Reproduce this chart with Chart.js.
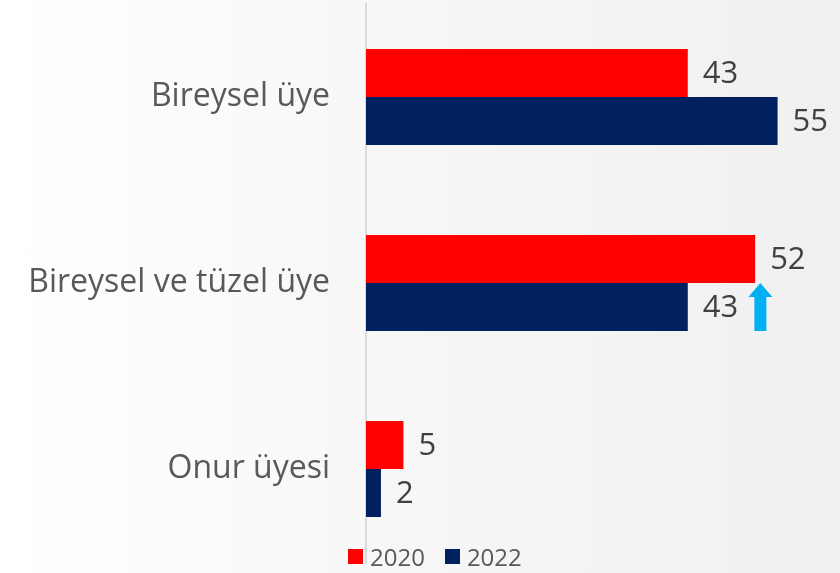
<!DOCTYPE html>
<html>
<head>
<meta charset="utf-8">
<script src="https://cdn.jsdelivr.net/npm/chart.js@4/dist/chart.umd.min.js"></script>
<style>
  html, body { margin: 0; padding: 0; }
  body {
    width: 840px; height: 573px; overflow: hidden;
    background: linear-gradient(to right, #ffffff 0%, #f7f7f7 45%, #f0f0f0 100%);
    position: relative;
    font-family: "Open Sans", sans-serif;
  }
  #kutu { position: absolute; left: 0; top: 0; width: 840px; height: 573px; }
  #lejant {
    position: absolute; left: 348px; top: 540px;
    display: flex; align-items: center;
    font-size: 24px; color: #595959;
  }
  #lejant .oge { display: flex; align-items: center; margin-right: 20px; }
  #lejant .kare { width: 15px; height: 15px; margin-right: 7px; }
</style>
</head>
<body>
<div id="kutu"><canvas id="grafik" width="840" height="573"></canvas></div>
<div id="lejant"></div>
<script>
// kategoriler ve seriler
const kategoriler = ["Bireysel üye", "Bireysel ve tüzel üye", "Onur üyesi"];
const seriler = ["2020", "2022"];
const degerler2020 = [43, 52, 5];
const degerler2022 = [55, 43, 2];
const renkler = ["#ff0000", "#002060"];

// artis oku: hangi kategori / seri ve eksende hangi degerde
const okKategori = 1;
const okSeri = 1;
const okDeger = 52.7;

// bar sonuna deger yazan eklenti
const degerYazisi = {
  id: "degerYazisi",
  afterDatasetsDraw(chart) {
    const ctx = chart.ctx;
    ctx.save();
    ctx.font = "31px 'Open Sans', sans-serif";
    ctx.fillStyle = "#404040";
    ctx.textAlign = "left";
    ctx.textBaseline = "middle";
    chart.data.datasets.forEach((ds, i) => {
      chart.getDatasetMeta(i).data.forEach((bar, j) => {
        ctx.fillText(ds.data[j], bar.x + 15, bar.y + 1);
      });
    });
    ctx.restore();
  }
};

// mavi yukari ok
const artisOku = {
  id: "artisOku",
  afterDatasetsDraw(chart) {
    const bar = chart.getDatasetMeta(okSeri).data[okKategori];
    const x = chart.scales.x.getPixelForValue(okDeger);
    const ust = bar.y - bar.height / 2;
    const alt = bar.y + bar.height / 2;
    const ctx = chart.ctx;
    ctx.save();
    ctx.fillStyle = "#00b0f0";
    ctx.beginPath();
    ctx.moveTo(x, ust);
    ctx.lineTo(x + 12, ust + 14);
    ctx.lineTo(x + 6, ust + 14);
    ctx.lineTo(x + 6, alt);
    ctx.lineTo(x - 6, alt);
    ctx.lineTo(x - 6, ust + 14);
    ctx.lineTo(x - 12, ust + 14);
    ctx.closePath();
    ctx.fill();
    ctx.restore();
  }
};

// html lejant, chart'in kendi etiketlerinden uretiliyor
const htmlLejant = {
  id: "htmlLejant",
  afterUpdate(chart) {
    const kutu = document.getElementById("lejant");
    kutu.innerHTML = "";
    const etiketler = chart.options.plugins.legend.labels.generateLabels(chart);
    etiketler.forEach((e) => {
      const oge = document.createElement("div");
      oge.className = "oge";
      const kare = document.createElement("span");
      kare.className = "kare";
      kare.style.background = e.fillStyle;
      const yazi = document.createElement("span");
      yazi.textContent = e.text;
      oge.appendChild(kare);
      oge.appendChild(yazi);
      kutu.appendChild(oge);
    });
  }
};

const grafik = new Chart(document.getElementById("grafik"), {
  type: "bar",
  data: {
    labels: kategoriler,
    datasets: [
      { label: seriler[0], data: degerler2020, backgroundColor: renkler[0] },
      { label: seriler[1], data: degerler2022, backgroundColor: renkler[1] },
    ],
  },
  options: {
    indexAxis: "y",
    responsive: false,
    animation: false,
    categoryPercentage: 0.516,
    barPercentage: 1,
    layout: { padding: { top: 4, bottom: 11, left: 0, right: 25 } },
    scales: {
      x: { display: false, min: 0, max: 60 },
      y: {
        // genislik sabit, etiket payi yok
        afterFit: (s) => {
          s.width = 366;
          s.paddingTop = 0;
          s.paddingBottom = 0;
        },
        grid: { display: false, drawTicks: false },
        border: { display: true, color: "#d9d9d9", width: 2 },
        ticks: {
          padding: 36,
          color: "#595959",
          font: { family: "'Open Sans', sans-serif", size: 32 },
        },
      },
    },
    plugins: {
      legend: { display: false },
      tooltip: { enabled: false },
    },
  },
  plugins: [degerYazisi, artisOku, htmlLejant],
});
</script>
</body>
</html>
